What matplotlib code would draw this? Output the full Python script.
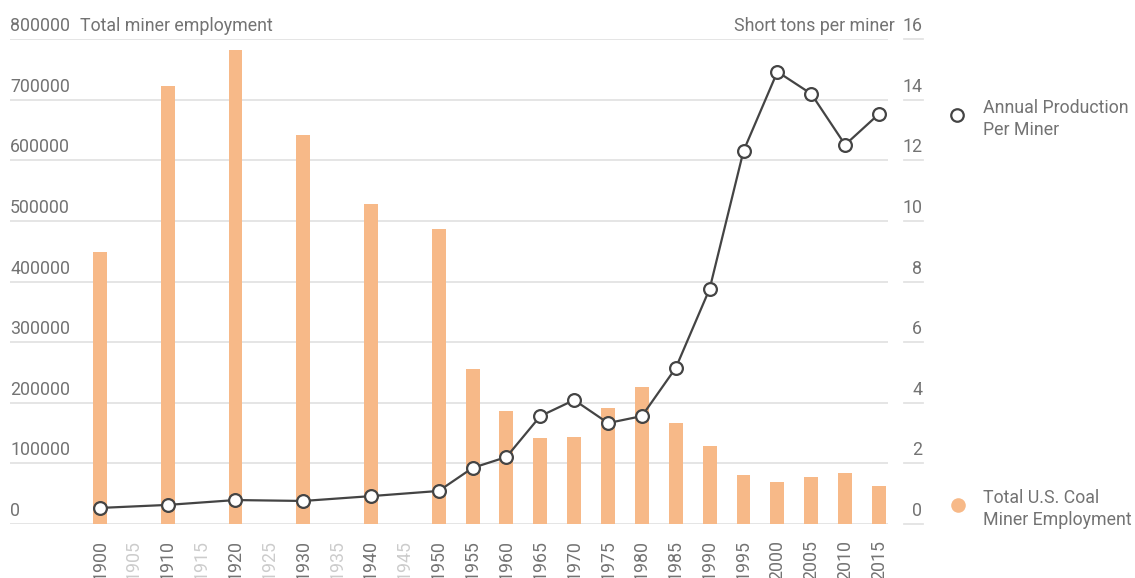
import numpy as np
import matplotlib
matplotlib.use("Agg")
import matplotlib.pyplot as plt
from matplotlib.lines import Line2D

# ---- data ----
years = [1900, 1905, 1910, 1915, 1920, 1925, 1930, 1935, 1940, 1945, 1950, 1955,
         1960, 1965, 1970, 1975, 1980, 1985, 1990, 1995, 2000, 2005, 2010, 2015]
employment = [448000, None, 723000, None, 782000, None, 642000, None, 528000, None,
              487000, 256000, 186000, 142000, 144000, 191000, 226000, 167000,
              129000, 81000, 69000, 78000, 84000, 63000]
per_miner = [0.53, None, 0.63, None, 0.79, None, 0.76, None, 0.92, None,
             1.09, 1.85, 2.21, 3.56, 4.09, 3.33, 3.56, 5.15,
             7.76, 12.31, 14.92, 14.19, 12.51, 13.53]
left_ticks = [0, 100000, 200000, 300000, 400000, 500000, 600000, 700000, 800000]
right_ticks = [0, 2, 4, 6, 8, 10, 12, 14, 16]
left_title = "Total miner employment"
right_title = "Short tons per miner"
legend_line = "Annual Production\nPer Miner"
legend_bar = "Total U.S. Coal\nMiner Employment"

# ---- style ----
plt.rcParams['font.family'] = ['Roboto', 'DejaVu Sans']
FS = 12.8
TXT = "#737373"
LIGHT = "#cccccc"
GRID = "#e3e3e3"
BAR = "#f7b988"
LINE = "#444444"

W, H = 1135, 578
fig = plt.figure(figsize=(W / 100, H / 100), dpi=100)

def fx(x):
    return x / W

def fy(y):
    return 1 - y / H

ax_l, ax_r, ax_b, ax_t = 10, 888, 524, 39
ax = fig.add_axes([fx(ax_l), fy(ax_b), fx(ax_r - ax_l), (ax_b - ax_t) / H])
ax2 = ax.twinx()

idx = np.arange(len(years))
step = 33.87
ax.set_xlim((ax_l - 100) / step, (ax_r - 100) / step)
ax.set_ylim(0, 800000)
ax2.set_ylim(0, 16)

bx = [i for i, v in zip(idx, employment) if v is not None]
bv = [v for v in employment if v is not None]
ax.bar(bx, bv, width=0.41, color=BAR, zorder=2)

lx = [i for i, v in zip(idx, per_miner) if v is not None]
lv = [v for v in per_miner if v is not None]
ax2.plot(lx, lv, color=LINE, lw=1.6, marker='o', ms=9.2, mfc='white',
         mec=LINE, mew=1.6, zorder=5)

for a in (ax, ax2):
    for s in a.spines.values():
        s.set_visible(False)
    a.tick_params(left=False, right=False, bottom=False, labelleft=False,
                  labelright=False)
ax.set_yticks(left_ticks)
ax.grid(axis='y', color=GRID, lw=1.3, zorder=0)
ax.set_axisbelow(True)
ax2.set_yticks(right_ticks)

# left tick labels above gridlines
for t in left_ticks:
    yp = ax.transData.transform((0, t))[1]
    fig.text(fx(ax_l), (yp + 8) / H, f"{t}", fontsize=FS, color=TXT,
             ha='left', va='baseline')
fig.text(fx(80), (ax.transData.transform((0, 800000))[1] + 8) / H, left_title,
         fontsize=FS, color=TXT, ha='left', va='baseline')

# right tick labels with short segments
for t in right_ticks:
    yp = ax2.transData.transform((0, t))[1]
    fig.text(fx(922), (yp + 8) / H, f"{t}", fontsize=FS, color=TXT,
             ha='right', va='baseline')
    fig.add_artist(Line2D([fx(904), fx(923)], [yp / H, yp / H], color=GRID,
                          lw=1.3, transform=fig.transFigure))
fig.text(fx(895), (ax2.transData.transform((0, 16))[1] + 8) / H, right_title,
         fontsize=FS, color=TXT, ha='right', va='baseline')

# x tick labels
ax.set_xticks(idx)
ax.set_xticklabels([str(y) for y in years], rotation=90, fontsize=FS)
ax.tick_params(axis='x', pad=8)
for lab, v in zip(ax.get_xticklabels(), employment):
    lab.set_color(TXT if v is not None else LIGHT)

# legend
fig.add_artist(Line2D([fx(957)], [fy(115)], marker='o', ms=9, mfc='white',
                      mec=LINE, mew=1.6, transform=fig.transFigure))
fig.text(fx(983), fy(135), legend_line, fontsize=FS, color=TXT, ha='left',
         va='baseline', linespacing=1.3)
fig.add_artist(Line2D([fx(958)], [fy(505)], marker='o', ms=10.5, mfc=BAR,
                      mec=BAR, mew=0, transform=fig.transFigure))
fig.text(fx(983), fy(525), legend_bar, fontsize=FS, color=TXT, ha='left',
         va='baseline', linespacing=1.3)

fig.savefig("out.png", dpi=100)
